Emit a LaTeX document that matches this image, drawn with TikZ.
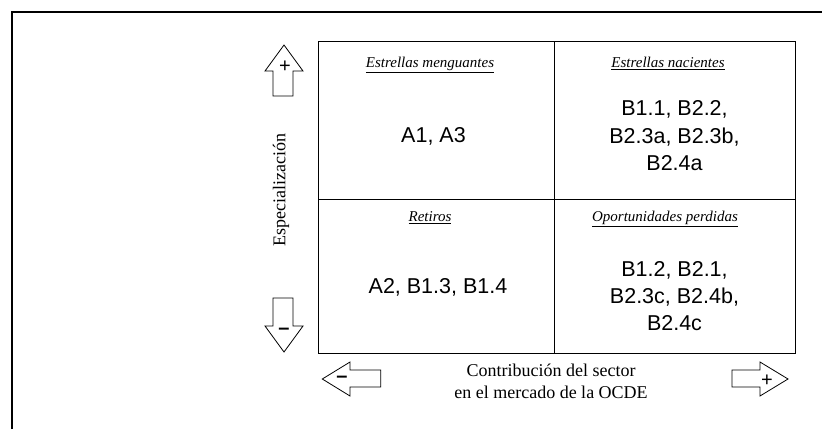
\documentclass[tikz,border=0pt]{standalone}
\usepackage{fontspec}
\setmainfont{Liberation Serif}
\newfontfamily\arialfont{Liberation Sans}
\tikzset{
	quadtitle/.style={anchor=base, inner sep=0pt, font=\fontsize{15}{18}\selectfont\itshape},
	quadlist/.style={align=center, inner sep=0pt, font=\arialfont\fontsize{21.5}{27.3}\selectfont},
	axistext/.style={align=center, inner sep=0pt, font=\fontsize{18}{21.6}\selectfont},
	signtext/.style={inner sep=0pt, font=\arialfont\fontsize{20}{20}\selectfont},
	bigarrow/.style={draw, line width=0.8pt, fill=white},
}

\begin{document}
\begin{tikzpicture}[x=1pt, y=-1pt]
	\useasboundingbox (0,0) rectangle (822,429);
	% Frame and grid:
	\draw[line width=1.5pt] (12,429) -- (12,12) -- (822,12);
	\coordinate (gNW) at (318,41);
	\coordinate (gSE) at (795,353);
	\coordinate (gN) at (554,41);
	\coordinate (gS) at (554,353);
	\coordinate (gW) at (318,199);
	\coordinate (gE) at (795,199);
	\draw[line width=0.9pt] (gNW) rectangle (gSE);
	\draw[line width=0.8pt] (gN) -- (gS);
	\draw[line width=0.8pt] (gW) -- (gE);
	% Quadrants:
	\node[quadtitle] (tmeng) at (430,67.3) {\underline{Estrellas menguantes}};
	\node[quadtitle] (tnac) at (668,67.3) {\underline{Estrellas nacientes}};
	\node[quadtitle] (tret) at (430,221.7) {\underline{Retiros}};
	\node[quadtitle] (topor) at (665,221.7) {\underline{Oportunidades perdidas}};
	\node[quadlist, anchor=base] (lmeng) at (433.5,142.7) {A1, A3};
	\node[quadlist] (lnac) at (674.5,135.7) {B1.1, B2.2,\\B2.3a, B2.3b,\\B2.4a};
	\node[quadlist, anchor=base] (lret) at (438,293.3) {A2, B1.3, B1.4};
	\node[quadlist] (lopor) at (674.5,296) {B1.2, B2.1,\\B2.3c, B2.4b,\\B2.4c};
	% Axes:
	\node[axistext, rotate=90] (espec) at (281,190) {Especialización};
	\node[axistext] (contrib) at (551,381.2) {Contribución del sector\\en el mercado de la OCDE};
	% Arrows:
	\draw[bigarrow] (273,96) -- (273,71) -- (265,71) -- (284,45) -- (303,71) -- (293,71) -- (293,96) -- cycle;
	\draw[bigarrow] (273,298) -- (273,326) -- (265,326) -- (284,352) -- (303,326) -- (293,326) -- (293,298) -- cycle;
	\draw[bigarrow] (380.7,370) -- (350,370) -- (350,362) -- (322.3,379) -- (350,396) -- (350,387) -- (380.7,387) -- cycle;
	\draw[bigarrow] (732,370) -- (760,370) -- (760,362) -- (788,379) -- (760,396) -- (760,387) -- (732,387) -- cycle;
	\node[signtext] (upplus) at (285,66.5) {+};
	\node[signtext] (downminus) at (284,331.7) {\bfseries –};
	\node[signtext] (leftminus) at (342,379) {\bfseries –};
	\node[signtext] (rightplus) at (767,380.5) {+};
\end{tikzpicture}
\end{document}
